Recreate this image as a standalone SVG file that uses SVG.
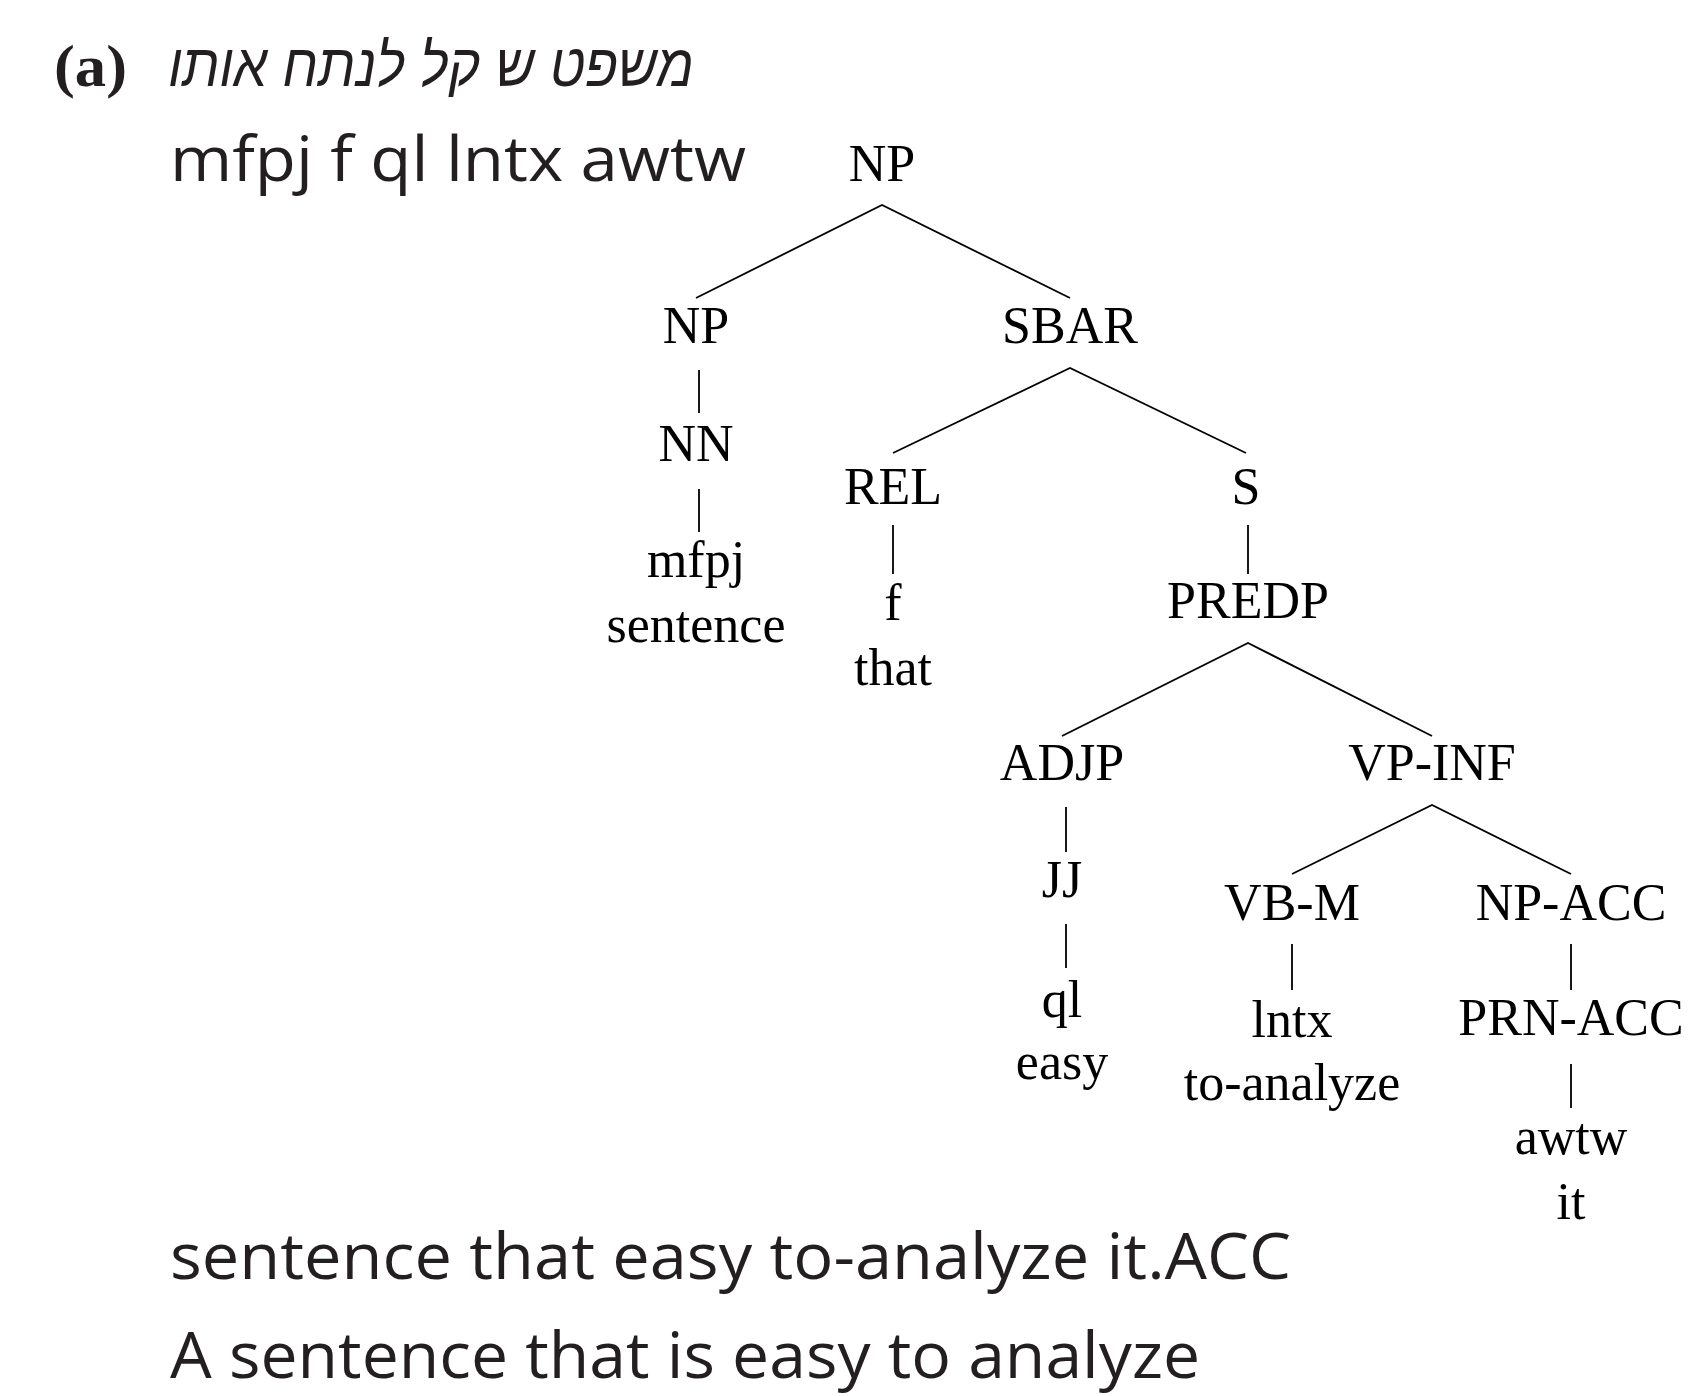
<svg xmlns="http://www.w3.org/2000/svg" width="1691" height="1396" viewBox="0 0 1691 1396">
<style>
.t{font-family:"Liberation Serif","Times New Roman",serif;font-size:52px;fill:#000;text-anchor:middle}
.h{font-family:"Open Sans","Liberation Sans",sans-serif;fill:#231f20;font-weight:400}
.e{stroke:#000;stroke-width:1.8;fill:none}
</style>
<rect width="1691" height="1396" fill="#fff"/>
<g id="header">
<text x="54" y="86" font-family="Liberation Serif,serif" font-size="60" font-weight="bold" fill="#231f20" textLength="73" lengthAdjust="spacingAndGlyphs">(a)</text>
<text transform="translate(431,86) scale(0.9,1)" x="0" y="0" font-family="Liberation Sans,DejaVu Sans,sans-serif" font-style="italic" font-size="60" fill="#231f20" text-anchor="middle">משפט ש קל לנתח אותו</text>
<text class="h" x="170" y="181" font-size="62" textLength="576" lengthAdjust="spacingAndGlyphs">mfpj f ql lntx awtw</text>
</g>
<g id="connectors">
<path class="e" d="M696,298 L882,205 L1070,298"/>
<path class="e" d="M699,370 V413 M699,489 V532"/>
<path class="e" d="M893,453 L1070,368 L1246,453"/>
<path class="e" d="M893,525 V574 M1248,525 V574"/>
<path class="e" d="M1062,736 L1248,643 L1432,736"/>
<path class="e" d="M1066,807 V852 M1066,924 V968"/>
<path class="e" d="M1292,874 L1432,805 L1571,874"/>
<path class="e" d="M1292,944 V990 M1571,944 V990 M1571,1064 V1108"/>
</g>
<g id="n-np-root"><text class="t" x="882" y="181">NP</text></g>
<g id="n-np"><text class="t" x="696" y="343">NP</text></g>
<g id="n-sbar"><text class="t" x="1070" y="343">SBAR</text></g>
<g id="n-nn"><text class="t" x="696" y="461">NN</text></g>
<g id="n-mfpj"><text class="t" x="696" y="577">mfpj</text><text class="t" x="696" y="642">sentence</text></g>
<g id="n-rel"><text class="t" x="893" y="504">REL</text></g>
<g id="n-s"><text class="t" x="1246" y="504">S</text></g>
<g id="n-f"><text class="t" x="893" y="620">f</text><text class="t" x="893" y="685">that</text></g>
<g id="n-predp"><text class="t" x="1248" y="618">PREDP</text></g>
<g id="n-adjp"><text class="t" x="1062" y="780">ADJP</text></g>
<g id="n-vpinf"><text class="t" x="1432" y="780">VP-INF</text></g>
<g id="n-jj"><text class="t" x="1062" y="897">JJ</text></g>
<g id="n-ql"><text class="t" x="1062" y="1017">ql</text><text class="t" x="1062" y="1079">easy</text></g>
<g id="n-vbm"><text class="t" x="1292" y="920">VB-M</text></g>
<g id="n-npacc"><text class="t" x="1571" y="920">NP-ACC</text></g>
<g id="n-lntx"><text class="t" x="1292" y="1037">lntx</text><text class="t" x="1292" y="1100">to-analyze</text></g>
<g id="n-prnacc"><text class="t" x="1571" y="1035">PRN-ACC</text></g>
<g id="n-awtw"><text class="t" x="1571" y="1154">awtw</text><text class="t" x="1571" y="1219">it</text></g>
<g id="footer">
<text class="h" x="170" y="1279" font-size="64" textLength="1121" lengthAdjust="spacingAndGlyphs">sentence that easy to-analyze it.ACC</text>
<text class="h" x="170" y="1378" font-size="64" textLength="1030" lengthAdjust="spacingAndGlyphs">A sentence that is easy to analyze</text>
</g>
</svg>
